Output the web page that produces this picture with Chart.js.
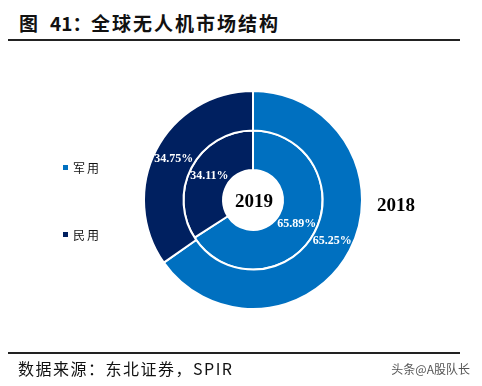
<!DOCTYPE html>
<html>
<head>
<meta charset="utf-8">
<script src="https://cdn.jsdelivr.net/npm/chart.js@4.4.0/dist/chart.umd.min.js"></script>
<style>
  body { margin: 0; width: 482px; height: 386px; position: relative; background: #fff; overflow: hidden; }
  .cjk { font-family: 'Noto Sans CJK SC', sans-serif; color: #111; position: absolute; white-space: nowrap; }
  .rule { position: absolute; left: 8px; width: 452px; height: 2px; background: #222; }
  #chartBox { position: absolute; left: 0; top: 0; width: 482px; height: 386px; }
</style>
</head>
<body>
<div class="cjk" style="left:19px;top:9px;font-size:19px;font-weight:bold;">图</div>
<div class="cjk" style="left:50px;top:9px;font-size:19px;font-weight:bold;">41：</div>
<div class="cjk" style="left:91px;top:9px;font-size:19px;font-weight:bold;letter-spacing:2px;">全球无人机市场结构</div>
<div class="rule" style="top:39px;"></div>

<div id="chartBox"><canvas id="myChart" width="482" height="386"></canvas></div>

<div class="rule" style="top:352px;"></div>
<div class="cjk" style="left:18px;top:356px;font-size:16px;letter-spacing:1.5px;">数据来源：东北证券，SPIR</div>
<div class="cjk" style="right:12px;top:360px;font-size:12px;color:#555;">头条@A股队长</div>

<script>
// Dữ liệu biểu đồ
const categories = ['军用', '民用'];
const years = ['2018', '2019'];
const share2018 = [65.25, 34.75];
const share2019 = [65.89, 34.11];
const sliceColors = ['#0070C0', '#002060'];

// Plugin vẽ nhãn phần trăm, năm và chú thích
const labelPlugin = {
    id: 'labelPlugin',
    afterDatasetsDraw(chart) {
        const ctx = chart.ctx;
        ctx.save();

        // Nhãn phần trăm tại tâm mỗi cung
        ctx.fillStyle = '#fff';
        ctx.font = 'bold 12px "Liberation Serif"';
        ctx.textAlign = 'center';
        ctx.textBaseline = 'middle';
        chart.data.datasets.forEach((ds, i) => {
            const meta = chart.getDatasetMeta(i);
            meta.data.forEach((arc, j) => {
                const p = arc.getCenterPoint();
                ctx.fillText(ds.data[j].toFixed(2) + '%', p.x, p.y);
            });
        });

        // Nhãn năm
        const outer = chart.getDatasetMeta(0).data[0];
        const cx = outer.x, cy = outer.y;
        ctx.fillStyle = '#000';
        ctx.font = 'bold 19px "Liberation Serif"';
        ctx.fillText(chart.data.datasets[1].label, cx + 1, cy + 2);
        ctx.textAlign = 'left';
        ctx.fillText(chart.data.datasets[0].label, cx + outer.outerRadius + 15, cy + 6);

        // Chú thích bên trái
        ctx.font = '12px "Noto Sans CJK SC"';
        ctx.textBaseline = 'middle';
        if ('letterSpacing' in ctx) ctx.letterSpacing = '2px';
        const legendY = [cy - 32, cy + 35];
        chart.data.labels.forEach((lab, k) => {
            ctx.fillStyle = sliceColors[k];
            ctx.fillRect(63, legendY[k] - 3, 5, 5);
            ctx.fillStyle = '#111';
            ctx.fillText(lab, 73, legendY[k]);
        });
        ctx.restore();
    }
};

const ctx = document.getElementById('myChart').getContext('2d');
new Chart(ctx, {
    type: 'doughnut',
    data: {
        labels: categories,
        datasets: [{
            label: years[0],
            data: share2018,
            backgroundColor: sliceColors,
            borderColor: '#fff',
            borderWidth: 2
        }, {
            label: years[1],
            data: share2019,
            backgroundColor: sliceColors,
            borderColor: '#fff',
            borderWidth: 2
        }]
    },
    options: {
        responsive: false,
        animation: false,
        cutout: 30,
        layout: {
            padding: { left: 143, right: 119, top: 89, bottom: 75 }
        },
        plugins: {
            legend: { display: false },
            tooltip: { enabled: false }
        }
    },
    plugins: [labelPlugin]
});
</script>
</body>
</html>
